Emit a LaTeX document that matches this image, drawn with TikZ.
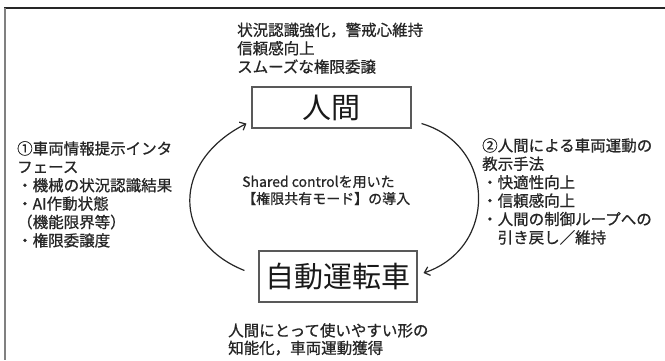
\documentclass[tikz,border=0pt]{standalone}
\usepackage{fontspec}
\setmainfont{Noto Sans CJK JP}
\newfontfamily\semibold[FakeBold=0.8]{Noto Sans CJK JP}
\usetikzlibrary{arrows.meta,calc}
\tikzset{
  txt/.style={anchor=north west, inner sep=0pt, align=left, text=black!85,
    font=\semibold\fontsize{15.5}{18.4}\selectfont},
  bigbox/.style={draw=black!65, line width=1.1pt, inner sep=0pt, text=black!90,
    font=\fontsize{29}{32}\selectfont},
  arc/.style={line width=1.2pt, draw=black!85, -{Straight Barb[length=5pt,width=9pt]}}
}
\begin{document}
\begin{tikzpicture}[x=1pt,y=-1pt]
\useasboundingbox (0,0) rectangle (665,360);
% frame
\draw[black!85, line width=1.5pt] (4,8) -- (665,8);
\draw[black!50, line width=2pt] (4.5,8) -- (4.5,360);
% boxes
\node[bigbox, minimum width=159pt, minimum height=41pt] (human) at (331.5,107.5) {人間};
\node[bigbox, minimum width=158pt, minimum height=51pt] (auto) at (338,276.5) {自動運転車};
% texts
\node[txt] (toptext) at (237,22.5) {状況認識強化，警戒心維持\\信頼感向上\\スムーズな権限委譲};
\node[txt] (lefttext) at (17,141) {①車両情報提示インタ\\フェース\\・機械の状況認識結果\\・AI作動状態\\（機能限界等）\\・権限委譲度};
\node[txt] (righttext) at (482,138) {②人間による車両運動の\\教示手法\\・快適性向上\\・信頼感向上\\・人間の制御ループへの\\　引き戻し／維持};
\node[txt, font=\semibold\fontsize{14}{17}\selectfont] (center) at (242,175.5) {Shared controlを用いた\\【権限共有モード】の導入};
\node[txt, font=\semibold\fontsize{15.5}{17.5}\selectfont] (bottomtext) at (228,323) {人間にとって使いやすい形の\\知能化，車両運動獲得};
% arcs
\coordinate (ls) at ($(auto.west)+(-14,-6)$);
\coordinate (le) at ($(human.south west)+(-5,-5)$);
\coordinate (rs) at ($(human.south east)+(10,-5)$);
\coordinate (re) at ($(auto.east)+(6,-3.5)$);
\draw[arc] (ls) .. controls +(-73,-29) and +(-75,38) .. (le);
\draw[arc] (rs) .. controls +(75,22) and +(74,-25) .. (re);
\end{tikzpicture}
\end{document}
